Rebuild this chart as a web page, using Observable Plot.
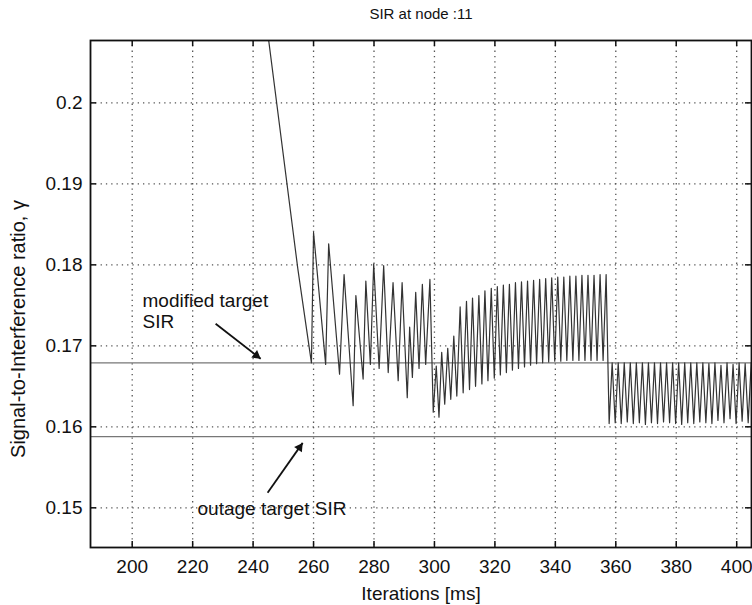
<!DOCTYPE html>
<html>
<head>
<meta charset="utf-8">
<script src="https://cdn.jsdelivr.net/npm/d3@7"></script>
<script src="https://cdn.jsdelivr.net/npm/@observablehq/plot@0.6"></script>
<style>
  html, body { margin: 0; padding: 0; background: #fff; }
</style>
</head>
<body>
<div id="chart"></div>
<script>
// Axis ticks
const xTicks = [200, 220, 240, 260, 280, 300, 320, 340, 360, 380, 400];
const yTicks = [0.15, 0.16, 0.17, 0.18, 0.19, 0.2];

// Target SIR levels
const modifiedTarget = 0.1679;
const outageTarget = 0.1588;

// SIR at node 11 — initial descent and transient oscillation
const transientX = [244.0, 254.8, 259.3, 260.0, 264.0, 265.0, 268.6, 270.1, 273.1, 274.0,
                    276.4, 277.3, 278.8, 279.9, 281.7, 283.2, 284.7, 286.3, 288.0, 289.3,
                    291.0, 291.8, 292.7, 293.8, 294.9, 296.0, 297.1, 298.5, 299.6];
const transientY = [0.2111, 0.1795, 0.1679, 0.1840, 0.1677, 0.1826, 0.1665, 0.1788, 0.1626, 0.1762,
                    0.1659, 0.1780, 0.1677, 0.1801, 0.1672, 0.1799, 0.1667, 0.1778, 0.1657, 0.1778,
                    0.1636, 0.1723, 0.1661, 0.1766, 0.1672, 0.1776, 0.1677, 0.1782, 0.1618];

// Fast oscillation between 300 and 358 ms
const denseX = [300.6, 301.5, 302.4, 303.4, 304.4, 305.4, 306.4, 307.4, 308.5, 309.5,
                310.6, 311.6, 312.6, 313.6, 314.7, 315.7, 316.7, 317.7, 318.8, 319.8,
                320.8, 321.8, 322.8, 323.8, 324.8, 325.8, 326.8, 327.8, 328.8, 329.8,
                330.8, 331.8, 332.8, 333.8, 334.8, 335.8, 336.8, 337.8, 338.8, 339.8,
                340.8, 341.8, 342.8, 343.8, 344.8, 345.8, 346.8, 347.8, 348.8, 349.8,
                350.8, 351.8, 352.8, 353.8, 354.8, 355.8, 356.8, 357.8];
const denseY = [0.1675, 0.1612, 0.1692, 0.1628, 0.1697, 0.1634, 0.1712, 0.1638, 0.1748, 0.1642,
                0.1755, 0.1646, 0.1759, 0.1650, 0.1762, 0.1653, 0.1768, 0.1657, 0.1771, 0.1660,
                0.1773, 0.1664, 0.1775, 0.1667, 0.1776, 0.1670, 0.1778, 0.1672, 0.1779, 0.1674,
                0.1780, 0.1676, 0.1781, 0.1678, 0.1782, 0.1679, 0.1783, 0.1680, 0.1784, 0.1681,
                0.1785, 0.1681, 0.1785, 0.1682, 0.1786, 0.1682, 0.1786, 0.1682, 0.1787, 0.1682,
                0.1787, 0.1682, 0.1787, 0.1682, 0.1788, 0.1682, 0.1788, 0.1604];

// Oscillation after 358 ms, between modified target and ~0.1605
const tailX = [358.8, 359.8, 360.8, 361.8, 362.8, 363.8, 364.8, 365.8, 366.8, 367.8,
               368.8, 369.8, 370.8, 371.8, 372.8, 373.8, 374.8, 375.8, 376.8, 377.8,
               378.8, 379.8, 380.8, 381.8, 382.8, 383.8, 384.8, 385.8, 386.8, 387.8,
               388.8, 389.8, 390.8, 391.8, 392.8, 393.8, 394.8, 395.8, 396.8, 397.8,
               398.8, 399.8, 400.8, 401.8, 402.8, 403.8, 404.8];
const tailY = [0.1679, 0.1605, 0.1679, 0.1604, 0.1679, 0.1606, 0.1679, 0.1604, 0.1679, 0.1605,
               0.1679, 0.1603, 0.1679, 0.1605, 0.1679, 0.1604, 0.1679, 0.1606, 0.1679, 0.1605,
               0.1679, 0.1604, 0.1679, 0.1603, 0.1679, 0.1605, 0.1679, 0.1604, 0.1679, 0.1606,
               0.1679, 0.1605, 0.1678, 0.1604, 0.1679, 0.1608, 0.1676, 0.1605, 0.1679, 0.1610,
               0.1677, 0.1604, 0.1679, 0.1607, 0.1678, 0.1605, 0.1679];

// Annotations
const noteText = ["modified target", "SIR", "outage target SIR"];
const noteX = [203.4, 203.4, 221.6];
const noteY = [0.17556, 0.17296, 0.14988];
const arrowX1 = [227.6, 244.8];
const arrowY1 = [0.17272, 0.15185];
const arrowX2 = [242.5, 256.4];
const arrowY2 = [0.16840, 0.15802];

const titleText = "SIR at node :11";
const xLabel = "Iterations [ms]";
const yLabel = "Signal-to-Interference ratio, \u03b3";

const sirX = transientX.concat(denseX, tailX);
const sirY = transientY.concat(denseY, tailY);
const sir = sirX.map((x, i) => ({x, y: sirY[i]}));
const notes = noteText.map((t, i) => ({t, x: noteX[i], y: noteY[i]}));
const arrows = arrowX1.map((x1, i) => ({x1, y1: arrowY1[i], x2: arrowX2[i], y2: arrowY2[i]}));

const W = 752, H = 605, mL = 90, mT = 40, mR = 1, mB = 58;
const fw = W - mL - mR, fh = H - mT - mB, tk = 6;
const font = "'Liberation Sans', Arial, Helvetica, sans-serif";

const chart = Plot.plot({
  width: W,
  height: H,
  marginLeft: mL,
  marginTop: mT,
  marginRight: mR,
  marginBottom: mB,
  style: {fontFamily: font, fontSize: "19px", color: "#111", background: "#fff"},
  x: {domain: [186.2, 404.9]},
  y: {domain: [0.1451, 0.2077]},
  marks: [
    Plot.gridX(xTicks, {stroke: "#555", strokeOpacity: 1, strokeWidth: 1.3, strokeDasharray: "1.3,4"}),
    Plot.gridY(yTicks, {stroke: "#555", strokeOpacity: 1, strokeWidth: 1.3, strokeDasharray: "1.3,4"}),
    Plot.ruleY([modifiedTarget, outageTarget], {stroke: "#777", strokeWidth: 1.3}),
    Plot.line(sir, {x: "x", y: "y", stroke: "#333", strokeWidth: 1.2, clip: true}),
    Plot.axisX(xTicks, {tickSize: 0, tickPadding: 12, label: null, tickFormat: d => `${d}`}),
    Plot.axisY(yTicks, {tickSize: 0, tickPadding: 8, label: null, tickFormat: d => `${+d.toFixed(3)}`}),
    Plot.tickX(xTicks, {x: d => d, insetTop: fh - tk, stroke: "#111", strokeWidth: 1.5}),
    Plot.tickX(xTicks, {x: d => d, insetBottom: fh - tk, stroke: "#111", strokeWidth: 1.5}),
    Plot.tickY(yTicks, {y: d => d, insetRight: fw - tk, stroke: "#111", strokeWidth: 1.5}),
    Plot.tickY(yTicks, {y: d => d, insetLeft: fw - tk, stroke: "#111", strokeWidth: 1.5}),
    Plot.frame({stroke: "#111", strokeWidth: 1.8}),
    Plot.link(arrows, {x1: "x1", y1: "y1", x2: "x2", y2: "y2", stroke: "#111", strokeWidth: 1.8}),
    Plot.dot([arrows[0]], {x: "x2", y: "y2", symbol: "triangle2", r: 4.5, fill: "#111", stroke: null, rotate: 127.9, dx: -4.3, dy: -3.3}),
    Plot.dot([arrows[1]], {x: "x2", y: "y2", symbol: "triangle2", r: 4.5, fill: "#111", stroke: null, rotate: 35, dx: -3.1, dy: 4.5}),
    Plot.text(notes, {x: "x", y: "y", text: "t", textAnchor: "start", fontSize: 19, fill: "#111"}),
    Plot.text([titleText], {frameAnchor: "top", text: d => d, lineAnchor: "middle", textAnchor: "middle", dy: -26, fontSize: 15, fill: "#111"}),
    Plot.text([xLabel], {frameAnchor: "bottom", text: d => d, lineAnchor: "middle", textAnchor: "middle", dy: 46, fontSize: 19, fill: "#111"}),
    Plot.text([yLabel], {frameAnchor: "left", text: d => d, lineAnchor: "middle", textAnchor: "middle", rotate: -90, dx: -72, dy: 35, fontSize: 20, fill: "#111"})
  ]
});
document.getElementById("chart").appendChild(chart);
</script>
</body>
</html>
